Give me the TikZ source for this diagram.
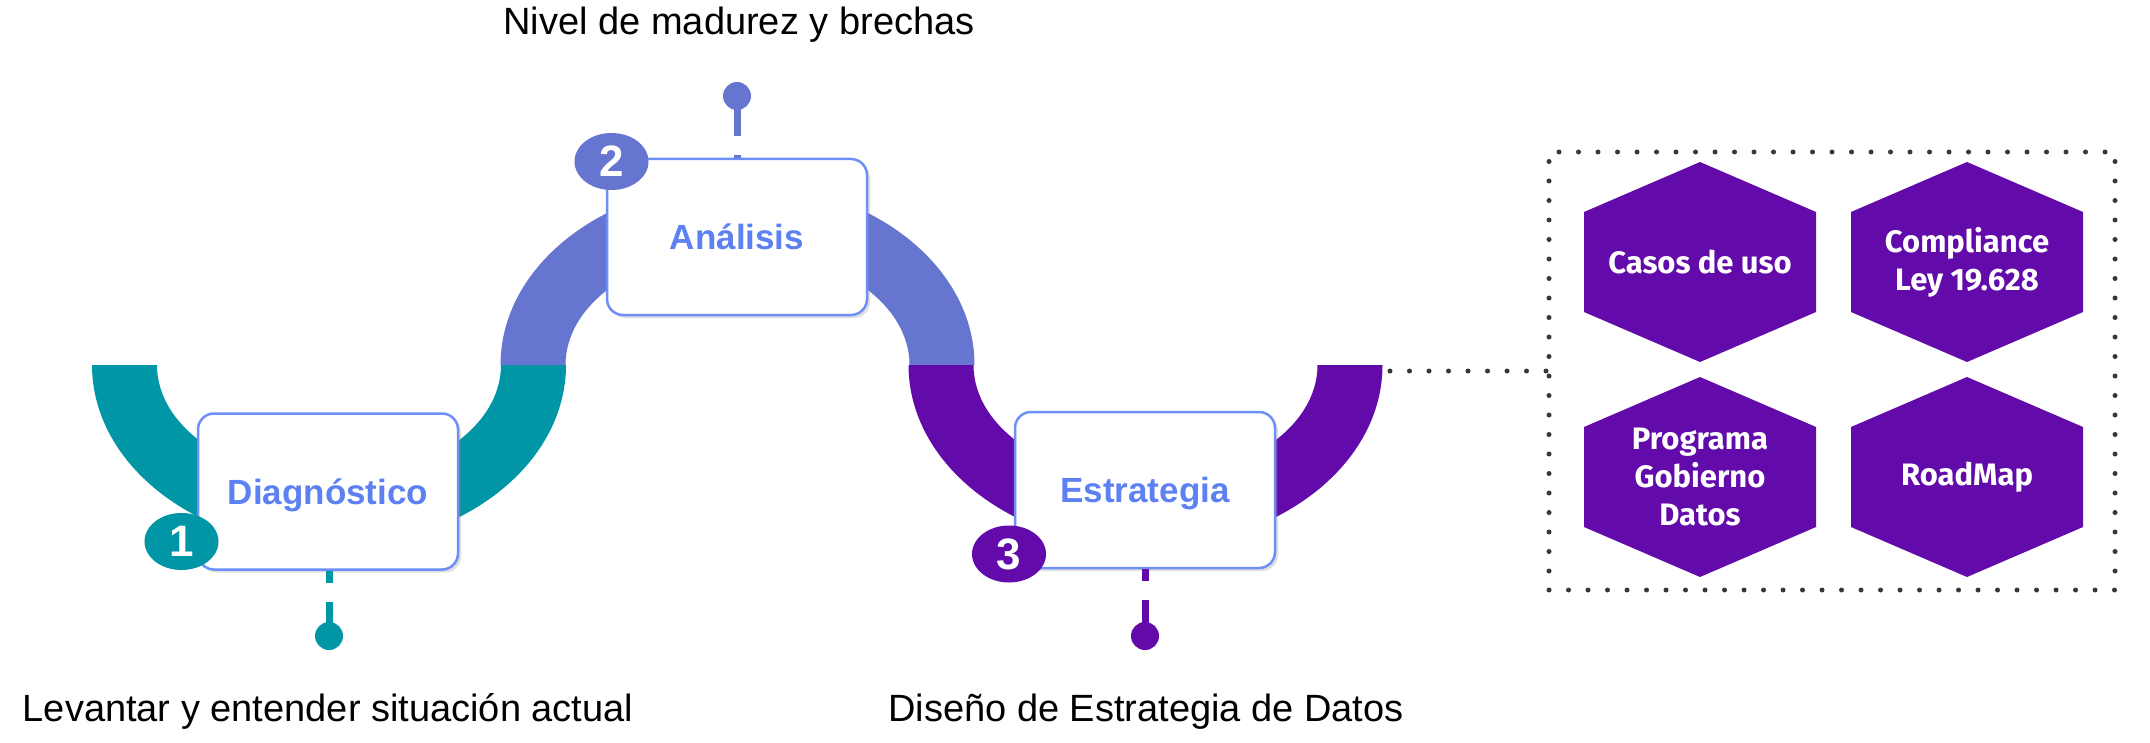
\documentclass[tikz,border=0pt]{standalone}
\usepackage{fontspec}
\setmainfont{Liberation Sans}
\newfontfamily\hexfont{Fira Sans}
\usetikzlibrary{shapes.geometric,shadows}
\definecolor{tealc}{RGB}{0,150,166}
\definecolor{peric}{RGB}{102,117,208}
\definecolor{purpc}{RGB}{98,10,170}
\definecolor{titlec}{RGB}{93,128,243}
\definecolor{borderc}{RGB}{110,143,247}
\definecolor{dotc}{RGB}{55,55,55}
\begin{document}
\begin{tikzpicture}[x=0.5pt,y=-0.5pt,
  stagebox/.style={draw=borderc, line width=1.25pt, fill=white, rounded corners=8pt,
    minimum width=130pt, minimum height=78pt, inner sep=0pt,
    font=\bfseries\fontsize{17.5}{20}\selectfont, text=titlec,
    text height=12.5pt, text depth=0pt,
    drop shadow={shadow xshift=1.5pt, shadow yshift=-1.5pt, opacity=0.25}},
  badge/.style={ellipse, fill=#1, minimum width=37pt, minimum height=28.5pt, inner sep=0pt,
    text=white, font=\bfseries\fontsize{22}{26}\selectfont},
  pindot/.style={circle, fill=#1, minimum size=14pt, inner sep=0pt},
  pinline/.style={draw=#1, line width=3.5pt},
  dotline/.style={draw=dotc, line width=2.5pt, line cap=round, dash pattern=on 0pt off 9.75pt},
  label/.style={anchor=base, font=\fontsize{19}{23}\selectfont, text=black},
  hexfill/.style={fill=purpc},
  hextext/.style={text=white, align=center, font=\hexfont\bfseries\fontsize{15.5}{19}\selectfont}
]
\useasboundingbox (0,0) rectangle (2150,743);

% bands
\fill[tealc] (92,365) arc[start angle=180, end angle=0, x radius=237, y radius=182]
  -- (501,365) arc[start angle=0, end angle=180, x radius=172, y radius=115] -- cycle;
\fill[peric] (500.5,365) arc[start angle=180, end angle=360, x radius=237, y radius=182]
  -- (909.5,365) arc[start angle=360, end angle=180, x radius=172, y radius=115] -- cycle;
\fill[purpc] (908.5,365) arc[start angle=180, end angle=0, x radius=237, y radius=182]
  -- (1317.5,365) arc[start angle=0, end angle=180, x radius=172, y radius=115] -- cycle;

% stage boxes
\node[stagebox] (diag) at (328,491.5) {Diagnóstico};
\node[stagebox] (anal) at (737,237) {Análisis};
\node[stagebox] (estr) at (1145,490) {Estrategia};

% pins
\node[pindot=tealc] (dot1) at (329,636) {};
\node[pindot=peric] (dot2) at (737,96) {};
\node[pindot=purpc] (dot3) at (1145,636) {};
\draw[pinline=tealc, dash pattern=on 6pt off 9.5pt on 60pt] (diag.south -| dot1) -- (dot1.center);
\draw[pinline=peric, dash pattern=on 1.5pt off 9.5pt on 60pt] (anal.north -| dot2) -- (dot2.center);
\draw[pinline=purpc, dash pattern=on 6pt off 9.5pt on 60pt] (estr.south -| dot3) -- (dot3.center);

% badges
\node[badge=tealc] (b1) at (181.5,541.5) {1};
\node[badge=peric] (b2) at (611.5,161.5) {2};
\node[badge=purpc] (b3) at (1009,554) {3};

% labels
\node[label] (l2) at (739,35) {Nivel de madurez y brechas};
\node[label] (l1) at (328,721) {Levantar y entender situación actual};
\node[label] (l3) at (1146,721) {Diseño de Estrategia de Datos};

% panel
\node[dotline, minimum width=283pt, minimum height=219pt, inner sep=0pt] (panel) at (1832,371) {};
\coordinate (arcend) at (1390,371);
\draw[dotline] (arcend) -- (panel.west);

% hexagons
\fill[hexfill] (1700,262) ++(-116,-50) -- ++(116,-50) -- ++(116,50) -- ++(0,100) -- ++(-116,50) -- ++(-116,-50) -- cycle;
\fill[hexfill] (1967,262) ++(-116,-50) -- ++(116,-50) -- ++(116,50) -- ++(0,100) -- ++(-116,50) -- ++(-116,-50) -- cycle;
\fill[hexfill] (1700,477) ++(-116,-50) -- ++(116,-50) -- ++(116,50) -- ++(0,100) -- ++(-116,50) -- ++(-116,-50) -- cycle;
\fill[hexfill] (1967,477) ++(-116,-50) -- ++(116,-50) -- ++(116,50) -- ++(0,100) -- ++(-116,50) -- ++(-116,-50) -- cycle;
\node[hextext] (h1) at (1700,262) {Casos de uso};
\node[hextext] (h2) at (1967,262) {Compliance\\Ley 19.628};
\node[hextext] (h3) at (1700,477) {Programa\\Gobierno\\Datos};
\node[hextext] (h4) at (1967,477) {RoadMap};
\end{tikzpicture}
\end{document}
